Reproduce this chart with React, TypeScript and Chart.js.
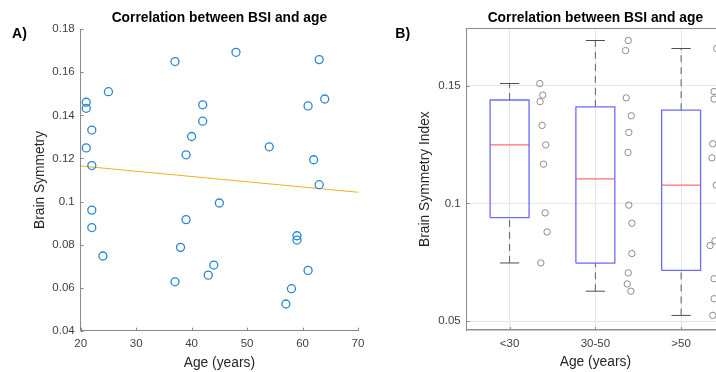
import React, { useEffect, useRef } from "react";
import { Chart, registerables } from "chart.js";

Chart.register(...registerables);

const FONT = "'Liberation Sans', Arial, Helvetica, sans-serif";
const AXIS = "#8a8a8a";
const TICK_TEXT = "#404040";
const LABEL_TEXT = "#262626";

// Subject ages (years)
const ages = [
  21, 21, 22, 21, 22, 25, 22, 22, 24,
  37, 48, 42, 42, 40, 39, 45, 39, 38, 44, 43, 37,
  63, 64, 61, 54, 62, 63, 59, 59, 61, 58, 57,
];

// Brain symmetry index of each subject
const bsi = [
  0.1461, 0.1433, 0.1332, 0.1249, 0.1167, 0.151, 0.096, 0.0879, 0.0747,
  0.165, 0.1693, 0.1449, 0.1373, 0.1302, 0.1217, 0.0993, 0.0916, 0.0787, 0.0705, 0.0658, 0.0627,
  0.1659, 0.1476, 0.1444, 0.1254, 0.1194, 0.1078, 0.0841, 0.0821, 0.068, 0.0595, 0.0524,
];

// Sideways offset of each subject's marker next to its group box
const spread = [
  0.387, 0.356, 0.379, 0.422, 0.395, 0.352, 0.414, 0.437, 0.364,
  0.352, 0.384, 0.36, 0.419, 0.39, 0.38, 0.39, 0.426, 0.426, 0.384, 0.372, 0.414,
  0.415, 0.384, 0.384, 0.369, 0.36, 0.41, 0.395, 0.337, 0.384, 0.384, 0.369,
];

const groupLabels = ["<30", "30-50", ">50"];

// Least-squares trend line end points
const fitAges = [20, 70];
const fitBsi = [0.1165, 0.1043];

const scatterXTicks = [20, 30, 40, 50, 60, 70];
const scatterYTicks = [0.04, 0.06, 0.08, 0.1, 0.12, 0.14, 0.16, 0.18];
const boxYTicks = [0.05, 0.1, 0.15];

const groupOf = (age: number) => (age < 30 ? 0 : age <= 50 ? 1 : 2);

// MATLAB-style quantile (linear interpolation, positions n*p + 0.5)
const quantile = (sorted: number[], p: number) => {
  const n = sorted.length;
  const pos = n * p + 0.5;
  if (pos <= 1) return sorted[0];
  if (pos >= n) return sorted[n - 1];
  const lo = Math.floor(pos);
  const f = pos - lo;
  return sorted[lo - 1] + f * (sorted[lo] - sorted[lo - 1]);
};

const fmt = (v: number) => String(Number(Number(v).toFixed(3)));

const tickFont = { family: FONT, size: 11.5 };
const labelFont = { family: FONT, size: 13.8 };
const titleFont = { family: FONT, size: 13.8, weight: "bold" as const };

// Short inward tick marks plus an optional top frame line
const axisDecor = (len: number, topFrame: boolean) => ({
  id: "axisDecor",
  afterDatasetsDraw(chart: any) {
    const { ctx, chartArea: a, scales } = chart;
    ctx.save();
    ctx.strokeStyle = AXIS;
    ctx.lineWidth = 1;
    ctx.beginPath();
    scales.x.ticks.forEach((t: any) => {
      const px = Math.round(scales.x.getPixelForValue(t.value)) + 0.5;
      ctx.moveTo(px, a.bottom);
      ctx.lineTo(px, a.bottom - len);
    });
    scales.y.ticks.forEach((t: any) => {
      const py = Math.round(scales.y.getPixelForValue(t.value)) + 0.5;
      ctx.moveTo(a.left, py);
      ctx.lineTo(a.left + len, py);
    });
    if (topFrame) {
      const ty = Math.round(a.top) + 0.5;
      ctx.moveTo(a.left, ty);
      ctx.lineTo(a.right, ty);
    }
    ctx.stroke();
    ctx.restore();
  },
});

// Panel letter in the upper left corner
const panelTag = (text: string, x: number, y: number) => ({
  id: "panelTag",
  afterDraw(chart: any) {
    const ctx = chart.ctx;
    ctx.save();
    ctx.font = `bold 14px ${FONT}`;
    ctx.fillStyle = "#000";
    ctx.textAlign = "center";
    ctx.textBaseline = "middle";
    ctx.fillText(text, x, y);
    ctx.restore();
  },
});

const line = (pts: { x: number; y: number }[], color: string, width: number, dash: number[] = []) => ({
  data: pts,
  showLine: true,
  borderColor: color,
  borderWidth: width,
  borderDash: dash,
  pointRadius: 0,
  fill: false,
  tension: 0,
});

export default function App() {
  const leftRef = useRef<HTMLCanvasElement>(null);
  const rightRef = useRef<HTMLCanvasElement>(null);

  useEffect(() => {
    const scatterChart = new Chart(leftRef.current as HTMLCanvasElement, {
      type: "scatter",
      data: {
        datasets: [
          {
            data: ages.map((x, i) => ({ x, y: bsi[i] })),
            borderColor: "#2a86cf",
            backgroundColor: "rgba(0,0,0,0)",
            pointRadius: 4,
            borderWidth: 1.3,
          },
          line(fitAges.map((x, i) => ({ x, y: fitBsi[i] })), "#EDB120", 1),
        ],
      } as any,
      options: {
        responsive: false,
        animation: false,
        events: [],
        layout: { padding: { left: 0, right: 22, top: 0, bottom: 0 } },
        plugins: {
          legend: { display: false },
          tooltip: { enabled: false },
          title: {
            display: true,
            text: "Correlation between BSI and age",
            fullSize: false,
            font: titleFont,
            color: "#000",
            padding: { top: 10, bottom: 2.7 },
          },
        },
        scales: {
          x: {
            type: "linear",
            min: 20,
            max: 70,
            afterBuildTicks: (s: any) => {
              s.ticks = scatterXTicks.map((value) => ({ value }));
            },
            afterFit: (s: any) => {
              s.height = 41.3;
            },
            grid: { display: false, drawTicks: false },
            border: { color: AXIS, width: 1 },
            ticks: { padding: 6, color: TICK_TEXT, font: tickFont, callback: (v: any) => fmt(v) },
            title: { display: true, text: "Age (years)", font: labelFont, color: LABEL_TEXT, padding: { top: 0, bottom: 0.9 } },
          },
          y: {
            type: "linear",
            min: 0.04,
            max: 0.18,
            afterBuildTicks: (s: any) => {
              s.ticks = scatterYTicks.map((value) => ({ value }));
            },
            afterFit: (s: any) => {
              s.width = 80.7;
            },
            grid: { display: false, drawTicks: false },
            border: { color: AXIS, width: 1 },
            ticks: { padding: 6, color: TICK_TEXT, font: tickFont, callback: (v: any) => fmt(v) },
            title: { display: true, text: "Brain Symmetry", font: labelFont, color: LABEL_TEXT, padding: { top: 31.7, bottom: 0 } },
          },
        },
      } as any,
      plugins: [axisDecor(3, false), panelTag("A)", 19.5, 34.5)],
    });

    // Box plot statistics per age group
    const groups: number[][] = [[], [], []];
    ages.forEach((a, i) => groups[groupOf(a)].push(bsi[i]));
    const halfBox = 0.227;
    const halfCap = 0.112;
    const boxSets: any[] = [];
    groups.forEach((vals, g) => {
      const s = [...vals].sort((a, b) => a - b);
      const c = g + 1;
      const q1 = quantile(s, 0.25);
      const med = quantile(s, 0.5);
      const q3 = quantile(s, 0.75);
      const lo = s[0];
      const hi = s[s.length - 1];
      boxSets.push(line([{ x: c, y: q3 }, { x: c, y: hi }], "#606060", 1, [7, 5]));
      boxSets.push(line([{ x: c, y: lo }, { x: c, y: q1 }], "#606060", 1, [7, 5]));
      boxSets.push(line([{ x: c - halfCap, y: hi }, { x: c + halfCap, y: hi }], "#4d4d4d", 1));
      boxSets.push(line([{ x: c - halfCap, y: lo }, { x: c + halfCap, y: lo }], "#4d4d4d", 1));
      boxSets.push(
        line(
          [
            { x: c - halfBox, y: q1 },
            { x: c + halfBox, y: q1 },
            { x: c + halfBox, y: q3 },
            { x: c - halfBox, y: q3 },
            { x: c - halfBox, y: q1 },
          ],
          "#6b6bff",
          1.3
        )
      );
      boxSets.push(line([{ x: c - halfBox, y: med }, { x: c + halfBox, y: med }], "#ff6f6f", 1.3));
    });

    const boxChart = new Chart(rightRef.current as HTMLCanvasElement, {
      type: "scatter",
      data: {
        datasets: [
          ...boxSets,
          {
            data: ages.map((a, i) => ({ x: groupOf(a) + 1 + spread[i], y: bsi[i] })),
            borderColor: "#8c8c8c",
            backgroundColor: "rgba(0,0,0,0)",
            pointRadius: 3.2,
            borderWidth: 1,
          },
        ],
      } as any,
      options: {
        responsive: false,
        animation: false,
        events: [],
        layout: { padding: { left: 0, right: 36, top: 0, bottom: 0 } },
        plugins: {
          legend: { display: false },
          tooltip: { enabled: false },
          title: {
            display: true,
            text: "Correlation between BSI and age",
            fullSize: false,
            font: titleFont,
            color: "#000",
            padding: { top: 10, bottom: 1.7 },
          },
        },
        scales: {
          x: {
            type: "linear",
            min: 0.5,
            max: 3.5,
            afterBuildTicks: (s: any) => {
              s.ticks = groupLabels.map((_, i) => ({ value: i + 1 }));
            },
            afterFit: (s: any) => {
              s.height = 42;
            },
            grid: { display: true, drawTicks: false, color: "#e6e6e6" },
            border: { color: "#909090", width: 1.6 },
            ticks: {
              padding: 7,
              color: TICK_TEXT,
              font: tickFont,
              callback: (v: any) => groupLabels[Math.round(v) - 1] ?? "",
            },
            title: { display: true, text: "Age (years)", font: labelFont, color: LABEL_TEXT, padding: { top: 0, bottom: 1.7 } },
          },
          y: {
            type: "linear",
            min: 0.0462,
            max: 0.1745,
            afterBuildTicks: (s: any) => {
              s.ticks = boxYTicks.map((value) => ({ value }));
            },
            afterFit: (s: any) => {
              s.width = 106.7;
            },
            grid: { display: true, drawTicks: false, color: "#e6e6e6" },
            border: { color: AXIS, width: 1 },
            ticks: { padding: 6, color: TICK_TEXT, font: tickFont, callback: (v: any) => fmt(v) },
            title: {
              display: true,
              text: "Brain Symmetry Index",
              font: labelFont,
              color: LABEL_TEXT,
              padding: { top: 56.8, bottom: 0 },
            },
          },
        },
      } as any,
      plugins: [axisDecor(3, true), panelTag("B)", 42.7, 34.3)],
    });

    return () => {
      scatterChart.destroy();
      boxChart.destroy();
    };
  }, []);

  return (
    <div
      style={{
        position: "fixed",
        left: 0,
        top: 0,
        width: 716,
        height: 372,
        overflow: "hidden",
        background: "#ffffff",
      }}
    >
      <canvas
        ref={leftRef}
        width={380}
        height={372}
        style={{ position: "absolute", left: 0, top: 0, width: 380, height: 372 }}
      />
      <canvas
        ref={rightRef}
        width={400}
        height={372}
        style={{ position: "absolute", left: 360, top: 0, width: 400, height: 372 }}
      />
    </div>
  );
}
